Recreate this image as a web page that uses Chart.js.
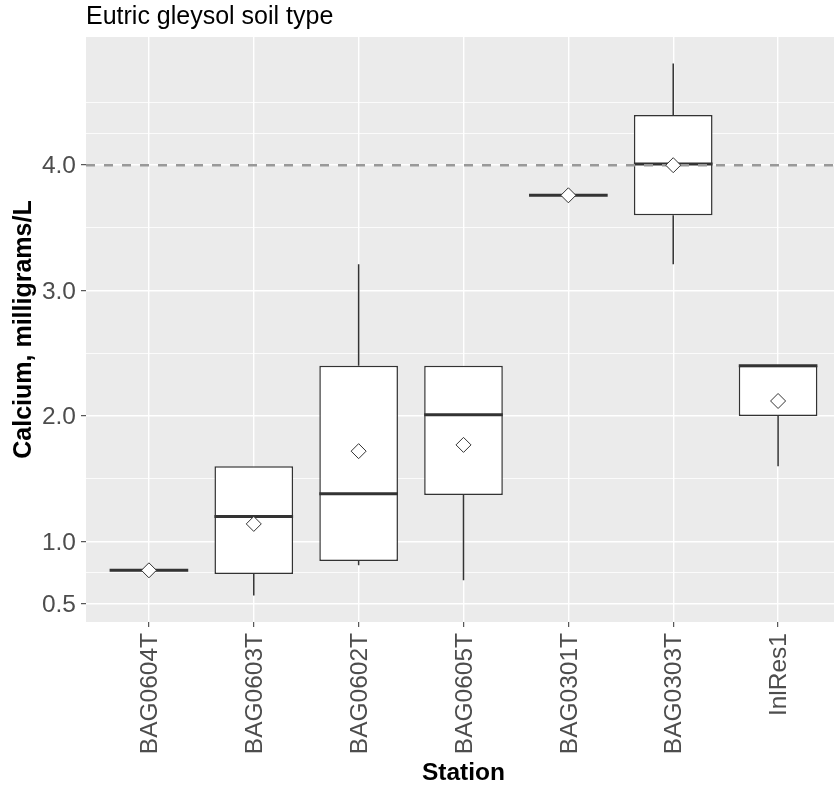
<!DOCTYPE html>
<html>
<head>
<meta charset="utf-8">
<script src="https://cdn.jsdelivr.net/npm/chart.js@4"></script>
<style>
  html, body { margin: 0; padding: 0; background: #fff; overflow: hidden; }
  canvas { display: block; }
</style>
</head>
<body>
<canvas id="boxplot" width="841" height="785"></canvas>
<script>
// values
const stations = ['BAG0604T', 'BAG0603T', 'BAG0602T', 'BAG0605T', 'BAG0301T', 'BAG0303T', 'InlRes1'];
const whiskerLow  = [0.77, 0.57, 0.81,  0.69, 3.76, 3.21, 1.60];
const q1          = [0.77, 0.74, 0.845, 1.37, 3.76, 3.60, 2.00];
const medians     = [0.77, 1.20, 1.38,  2.01, 3.76, 4.01, 2.40];
const q3          = [0.77, 1.60, 2.40,  2.40, 3.76, 4.40, 2.40];
const whiskerHigh = [0.77, 1.60, 3.21,  2.40, 3.76, 4.81, 2.40];
const means       = [0.77, 1.14, 1.72,  1.77, 3.76, 4.00, 2.12];
const yMajorTicks = [0.5, 1.0, 2.0, 3.0, 4.0];
const yMinorTicks = [0.75, 1.5, 2.5, 3.5, 4.25, 4.5];
const threshold = 4.0;

const BOX_WIDTH = 0.75;
const FONT = "'Liberation Sans', Arial, sans-serif";
const INK = '#333333';

// ggplot-like 5% expansion of the data range
const lo = Math.min(...whiskerLow);
const hi = Math.max(...whiskerHigh);
const pad = (hi - lo) * 0.05;

const whiskerPts = [];
const medianPts = [];
stations.forEach((s, i) => {
  const x = i + 1;
  whiskerPts.push({x: x, y: q3[i]}, {x: x, y: whiskerHigh[i]}, {x: x, y: null});
  whiskerPts.push({x: x, y: q1[i]}, {x: x, y: whiskerLow[i]}, {x: x, y: null});
  medianPts.push({x: x - BOX_WIDTH / 2, y: medians[i]}, {x: x + BOX_WIDTH / 2, y: medians[i]}, {x: x, y: null});
});

const panelBg = {
  id: 'panelBg',
  beforeDraw(chart) {
    const {ctx, chartArea: a} = chart;
    ctx.save();
    ctx.fillStyle = '#EBEBEB';
    ctx.fillRect(a.left, a.top, a.right - a.left, a.bottom - a.top);
    ctx.restore();
  }
};

const isMajor = v => yMajorTicks.some(t => Math.abs(t - v) < 1e-9);

new Chart(document.getElementById('boxplot'), {
  type: 'scatter',
  data: {
    datasets: [
      {
        type: 'line',
        data: [{x: 0.4, y: threshold}, {x: stations.length + 0.6, y: threshold}],
        borderColor: '#999999',
        borderWidth: 2.5,
        borderDash: [9, 9],
        pointRadius: 0,
        order: 1
      },
      {
        type: 'scatter',
        data: means.map((m, i) => ({x: i + 1, y: m})),
        pointStyle: 'rectRot',
        pointRadius: 7.5,
        backgroundColor: '#ffffff',
        borderColor: INK,
        borderWidth: 1,
        order: 0
      },
      {
        type: 'line',
        data: medianPts,
        borderColor: INK,
        borderWidth: 3,
        pointRadius: 0,
        spanGaps: false,
        order: 2
      },
      {
        type: 'bar',
        data: stations.map((s, i) => ({x: i + 1, y: [q1[i], q3[i]]})),
        backgroundColor: '#ffffff',
        borderColor: INK,
        borderWidth: 1.5,
        borderSkipped: false,
        barPercentage: BOX_WIDTH,
        categoryPercentage: 1,
        order: 3
      },
      {
        type: 'line',
        data: whiskerPts,
        borderColor: INK,
        borderWidth: 1.5,
        pointRadius: 0,
        spanGaps: false,
        order: 4
      }
    ]
  },
  options: {
    responsive: false,
    animation: false,
    events: [],
    layout: { padding: 0, autoPadding: false },
    plugins: {
      legend: { display: false },
      tooltip: { enabled: false },
      title: {
        display: true,
        text: 'Eutric gleysol soil type',
        align: 'start',
        fullSize: false,
        color: '#000000',
        font: { family: FONT, size: 25, weight: 'normal' },
        padding: { top: 2, bottom: 5 }
      }
    },
    scales: {
      x: {
        type: 'linear',
        min: 0.4,
        max: stations.length + 0.6,
        offset: false,
        afterBuildTicks: s => { s.ticks = stations.map((n, i) => ({value: i + 1})); },
        afterFit: s => { s.height = 163; s.paddingLeft = 0; s.paddingRight = 0; },
        ticks: {
          autoSkip: false,
          minRotation: 90,
          maxRotation: 90,
          padding: 6,
          labelOffset: 1.5,
          color: '#4D4D4D',
          font: { family: FONT, size: 24.5 },
          callback: v => stations[Math.round(v) - 1]
        },
        grid: {
          offset: false,
          color: '#ffffff',
          lineWidth: 1.4,
          tickColor: INK,
          tickLength: 5,
          tickWidth: 1
        },
        border: { display: false },
        title: {
          display: true,
          text: 'Station',
          color: '#000000',
          font: { family: FONT, size: 24.5, weight: 'bold', lineHeight: 1 },
          padding: { top: 0, bottom: 0 }
        }
      },
      y: {
        type: 'linear',
        min: lo - pad,
        max: hi + pad,
        beginAtZero: false,
        afterBuildTicks: s => {
          s.ticks = yMajorTicks.concat(yMinorTicks).sort((a, b) => a - b).map(v => ({value: v}));
        },
        afterFit: s => { s.width = 86; s.paddingTop = 0; s.paddingBottom = 0; },
        ticks: {
          autoSkip: false,
          padding: 5,
          labelOffset: 1.5,
          color: '#4D4D4D',
          font: { family: FONT, size: 24.5 },
          callback: v => isMajor(v) ? v.toFixed(1) : ''
        },
        grid: {
          color: '#ffffff',
          lineWidth: c => isMajor(c.tick.value) ? 1.4 : 0.8,
          tickColor: c => isMajor(c.tick.value) ? INK : 'rgba(0,0,0,0)',
          tickLength: 5,
          tickWidth: 1
        },
        border: { display: false },
        title: {
          display: true,
          text: 'Calcium, milligrams/L',
          color: '#000000',
          font: { family: FONT, size: 25, weight: 'bold' },
          padding: { top: 9, bottom: 0 }
        }
      }
    }
  },
  plugins: [panelBg]
});
</script>
</body>
</html>
